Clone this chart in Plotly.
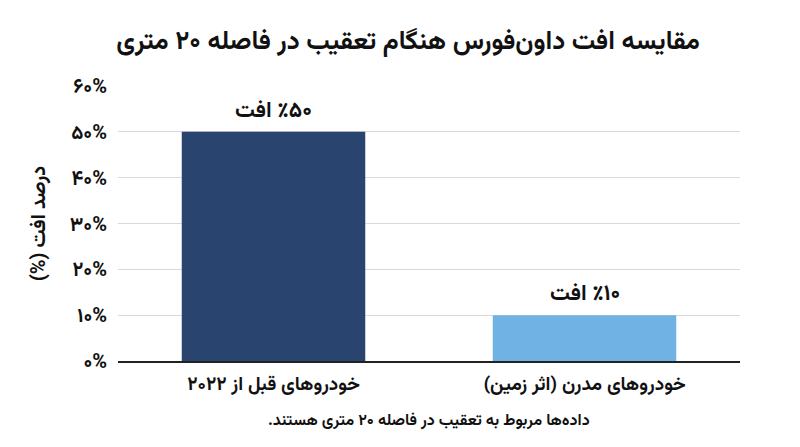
import plotly.graph_objects as go

RLM = "\u200f"
LRM = "\u200e"

categories = ["خودروهای قبل از ۲۰۲۲", "خودروهای مدرن (اثر زمین)"]
drop_pct = [50, 10]
bar_words = ["افت", "افت"]
bar_numbers = ["٪۵۰", "٪۱۰"]
bar_colors = ["#2a4470", "#70b2e3"]
tick_vals = [0, 10, 20, 30, 40, 50, 60]
tick_text = ["۰%", "۱۰%", "۲۰%", "۳۰%", "۴۰%", "۵۰%", "۶۰%"]

title_text = "مقایسه افت داون‌فورس هنگام تعقیب در فاصله ۲۰ متری"
y_title = "درصد افت (%)"
footnote = "داده‌ها مربوط به تعقیب در فاصله ۲۰ متری هستند."

font_family = "Vazirmatn, 'Noto Sans Arabic', 'DejaVu Sans', sans-serif"

cat_display = [RLM + c + RLM for c in categories]

fig = go.Figure()
fig.add_trace(
    go.Bar(
        x=cat_display,
        y=drop_pct,
        marker=dict(color=bar_colors, line=dict(width=0)),
        width=0.59,
        hoverinfo="skip",
    )
)

# value labels above the bars (word on the left, percent number on the right)
for cat, val, word, num in zip(cat_display, drop_pct, bar_words, bar_numbers):
    fig.add_annotation(
        x=cat,
        y=val,
        text=LRM + word + " " + LRM + num,
        showarrow=False,
        yanchor="bottom",
        yshift=1,
        font=dict(size=22, color="#111111", family=font_family, weight="bold"),
    )

fig.add_annotation(
    xref="paper",
    yref="paper",
    x=0.5,
    y=-0.22,
    text=RLM + footnote + RLM,
    showarrow=False,
    xanchor="center",
    yanchor="middle",
    font=dict(size=16, color="#111111", family=font_family, weight="bold"),
)

fig.update_layout(
    width=800,
    height=447,
    margin=dict(l=110, r=68, t=78, b=94),
    paper_bgcolor="white",
    plot_bgcolor="white",
    showlegend=False,
    font=dict(family=font_family, color="#111111"),
    title=dict(
        text=RLM + title_text + RLM,
        x=0.5,
        xanchor="center",
        y=0.928,
        yanchor="middle",
        font=dict(size=26, color="#111111", family=font_family, weight="bold"),
    ),
    xaxis=dict(
        showgrid=False,
        showline=True,
        linecolor="#222222",
        linewidth=1.5,
        ticks="",
        tickfont=dict(size=19, color="#111111", family=font_family, weight="bold"),
        ticklabelstandoff=4,
    ),
    yaxis=dict(
        range=[0, 60],
        tickvals=tick_vals,
        ticktext=tick_text,
        showgrid=True,
        gridcolor="#d9d9d9",
        gridwidth=1,
        zeroline=False,
        showline=False,
        ticks="",
        ticklabelstandoff=10,
        tickfont=dict(size=20, color="#111111", family=font_family, weight="bold"),
        title=dict(
            text=RLM + y_title + RLM,
            standoff=18,
            font=dict(size=20, color="#111111", family=font_family, weight="bold"),
        ),
    ),
)

fig.write_html("out.html")
